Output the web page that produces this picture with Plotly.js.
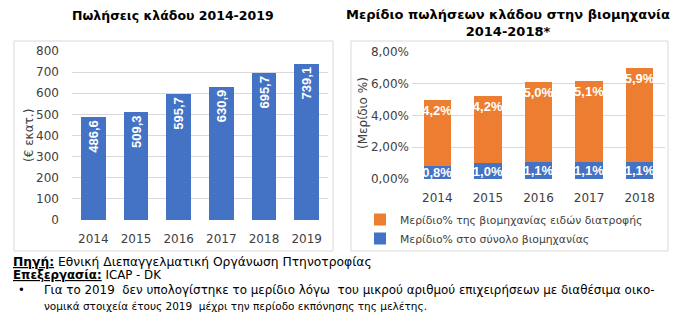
<!DOCTYPE html>
<html><head><meta charset="utf-8">
<script src="https://cdn.plot.ly/plotly-3.0.1.min.js"></script>
<style>html,body{margin:0;padding:0;background:#fff}#chart{width:681px;height:322px}</style>
</head><body><div id="chart"></div>
<script>
const salesYears = ['2014','2015','2016','2017','2018','2019'];
const salesValues = [486.6, 509.3, 595.7, 630.9, 695.7, 739.1];
const shareYears = ['2014','2015','2016','2017','2018'];
const shareTotalIndustry = [0.008, 0.010, 0.011, 0.011, 0.011];
const shareFoodIndustry = [0.042, 0.042, 0.050, 0.051, 0.059];
const salesTicks = [0,100,200,300,400,500,600,700,800];
const shareTicks = [0,0.02,0.04,0.06,0.08];

const W = 681, H = 322;
const px = v => v / W;
const py = v => (H - v) / H;
const BLUE = '#4472C4', ORANGE = '#ED7D31', GRID = '#d9d9d9', TICK = '#404040';
const FONT = 'DejaVu Sans, sans-serif';
const LBL = 'Liberation Sans, Arial, sans-serif';

const data = [
  {type:'bar', x: salesYears, y: salesValues, xaxis:'x', yaxis:'y', width:0.58,
   marker:{color:BLUE}, showlegend:false,
   texttemplate:'%{y:.1f}', textposition:'inside', insidetextanchor:'end', textangle:-90,
   constraintext:'none', textfont:{color:'#fff', size:13, family:LBL, weight:'bold'}, hoverinfo:'skip'},
  {type:'bar', name:'Μερίδιο% στο σύνολο βιομηχανίας', x: shareYears, y: shareTotalIndustry,
   xaxis:'x2', yaxis:'y2', width:0.54, marker:{color:BLUE},
   texttemplate:'%{y:.1%}', textposition:'inside', insidetextanchor:'middle', textangle:0,
   constraintext:'none', textfont:{color:'#fff', size:13, family:LBL, weight:'bold'}, hoverinfo:'skip'},
  {type:'bar', name:'Μερίδιο% της βιομηχανίας ειδών διατροφής', x: shareYears, y: shareFoodIndustry,
   xaxis:'x2', yaxis:'y2', width:0.54, marker:{color:ORANGE},
   texttemplate:'%{y:.1%}', textposition:'inside', insidetextanchor:'end', textangle:0,
   constraintext:'none', textfont:{color:'#fff', size:13, family:LBL, weight:'bold'}, hoverinfo:'skip'}
];

function ann(x, y, text, opts) {
  return Object.assign({xref:'paper', yref:'paper', x:px(x), y:py(y), text:text, showarrow:false,
    xanchor:'center', yanchor:'middle'}, opts || {});
}
const foot = s => ({size:s, family:FONT, color:'#000'});

const layout = {
  width: W, height: H, margin:{l:0,r:0,t:0,b:0},
  paper_bgcolor:'#fff', plot_bgcolor:'#fff',
  separators: ',.', barmode:'stack',
  font:{family:FONT, color:TICK, size:12},
  xaxis:{domain:[px(72), px(328)], anchor:'y', showgrid:false, showline:false, ticks:'',
         tickmode:'array', tickvals:salesYears, ticktext:salesYears,
         tickfont:{size:12, family:FONT, color:TICK}, ticklabelstandoff:10},
  yaxis:{domain:[py(220), py(51)], anchor:'x', range:[0,800], tickvals:salesTicks,
         showgrid:true, gridcolor:GRID, gridwidth:1, zeroline:false, showline:false, ticks:'',
         tickfont:{size:12, family:FONT, color:TICK}, ticklabelstandoff:12},
  xaxis2:{domain:[px(412), px(665)], anchor:'y2', showgrid:false, showline:false, ticks:'',
         tickmode:'array', tickvals:shareYears, ticktext:shareYears,
         tickfont:{size:12, family:FONT, color:TICK}, ticklabelstandoff:10},
  yaxis2:{domain:[py(179), py(52)], anchor:'x2', range:[0,0.08], tickvals:shareTicks, tickformat:'.2%',
         showgrid:true, gridcolor:GRID, gridwidth:1, zeroline:false, showline:false, ticks:'',
         tickfont:{size:12, family:FONT, color:TICK}, ticklabelstandoff:2},
  legend:{x:px(360), y:py(205), xanchor:'left', yanchor:'top', traceorder:'reversed',
          font:{size:10.8, family:FONT, color:TICK}, itemwidth:30, tracegroupgap:0, bgcolor:'rgba(0,0,0,0)'},
  shapes:[
    {type:'rect', xref:'paper', yref:'paper', x0:px(14), x1:px(333), y0:py(251), y1:py(41), line:{color:GRID, width:1}},
    {type:'rect', xref:'paper', yref:'paper', x0:px(351), x1:px(668), y0:py(251), y1:py(41), line:{color:GRID, width:1}}
  ],
  annotations:[
    ann(173, 15, '<b>Πωλήσεις κλάδου 2014-2019</b>', {font:{size:12.5, family:FONT, color:'#000'}}),
    ann(508, 23, '<b>Μερίδιο πωλήσεων κλάδου στην βιομηχανία<br>2014-2018*</b>', {font:{size:13, family:FONT, color:'#000'}}),
    ann(29, 136, '(€ εκατ.)', {textangle:-90, font:{size:12, family:FONT, color:TICK}}),
    ann(363, 113, '(Μερίδιο %)', {textangle:-90, font:{size:12, family:FONT, color:TICK}}),
    ann(11, 262, '<b><u>Πηγή:</u></b> Εθνική Διεπαγγελματική Οργάνωση Πτηνοτροφίας', {xanchor:'left', font:foot(12.3)}),
    ann(11, 275, '<b><u>Επεξεργασία:</u></b> ICAP - DK', {xanchor:'left', font:foot(11.8)}),
    ann(16, 290, '•', {xanchor:'left', font:foot(11.5)}),
    ann(42, 290, 'Για το 2019  δεν υπολογίστηκε το μερίδιο λόγω  του μικρού αριθμού επιχειρήσεων με διαθέσιμα οικο-', {xanchor:'left', font:foot(11.9)}),
    ann(42, 306, 'νομικά στοιχεία έτους 2019  μέχρι την περίοδο εκπόνησης της μελέτης.', {xanchor:'left', font:foot(10.5)})
  ]
};
Plotly.newPlot('chart', data, layout, {displayModeBar:false, staticPlot:true});
</script></body></html>
